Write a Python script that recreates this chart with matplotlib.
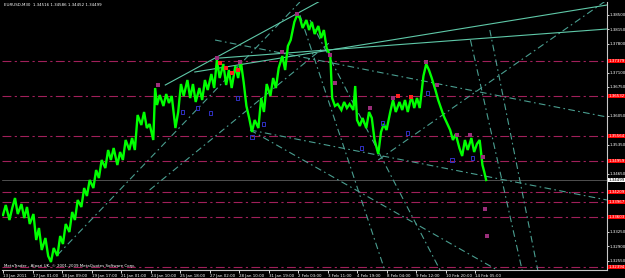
import matplotlib
matplotlib.use('Agg')
import matplotlib.pyplot as plt
from matplotlib import font_manager
from matplotlib.transforms import blended_transform_factory

# ---- price path (bar index, close) ----
bars = [0,3,7,10,13,16,20,23,26,29,33,36,39,42,46,49,52,55,59,62,65,68,72,75,78,81,85,88,91,94,
        98,101,104,107,111,114,117,120,124,127,130,133,137,140,143,146,150,153,156,159,163,165,167,170,
        174,177,180,183,187,190,193,196,200,203,206,209,213,216,219,222,226,229,232,235,239,242,245,248,
        252,255,258,261,264,267,270,273,277,280,283,286,290,293,296,299,303,306,309,312,316,319,322,325,
        329,332,335,338,342,345,348,351,355,357,360,363,367,370,373,376,380,382,384,387,390,394,397,400,
        403,407,410,413,416,420,423,426,430,433,436,439,443,446,449,452,456,459,462,465,469,472,475,478,
        482,485,488,491,495,498,501,504,508,511,514,517,520,522,524]
closes = [1.33652,1.33894,1.33531,1.33821,1.34063,1.33676,1.33918,1.33579,1.33846,1.33434,1.33676,1.33047,
          1.33337,1.32805,1.33095,1.32660,1.32515,1.32853,1.32660,1.33144,1.32950,1.33434,1.33241,1.33725,
          1.33531,1.34015,1.33846,1.34305,1.34112,1.34499,1.34305,1.34741,1.34547,1.34983,1.34789,1.35225,
          1.34983,1.35273,1.34862,1.35177,1.34983,1.35467,1.35225,1.35515,1.35225,1.36072,1.35830,1.36145,
          1.35757,1.35854,1.35467,1.36725,1.36314,1.36556,1.36290,1.36580,1.36362,1.36532,1.35757,1.36145,
          1.36822,1.36532,1.36919,1.36483,1.36822,1.36387,1.36725,1.36435,1.36919,1.36677,1.37064,1.36725,
          1.37403,1.36967,1.37306,1.36798,1.37161,1.36725,1.37258,1.36967,1.37355,1.36871,1.36290,1.35999,
          1.35661,1.35951,1.35757,1.36483,1.36145,1.36822,1.36532,1.36967,1.36725,1.37209,1.37500,1.37161,
          1.37742,1.37887,1.38323,1.38492,1.38419,1.38177,1.38371,1.38129,1.38323,1.38032,1.38226,1.37935,
          1.38129,1.37693,1.37500,1.36483,1.36290,1.36338,1.36193,1.36387,1.36241,1.36338,1.36193,1.36774,
          1.35951,1.35806,1.35999,1.35757,1.36145,1.35999,1.35467,1.35128,1.35661,1.35854,1.35709,1.36145,
          1.36435,1.36145,1.36387,1.36193,1.36435,1.36145,1.36532,1.36241,1.36483,1.36241,1.37016,1.37306,
          1.37161,1.36967,1.36677,1.36435,1.36241,1.36048,1.35854,1.35709,1.35467,1.35612,1.35273,1.35080,
          1.35467,1.35225,1.35515,1.35177,1.35370,1.35467,1.34862,1.34693,1.34499]

# ---- axis labels ----
date_ticks = [0,32,64,96,128,160,192,224,256,288,320,352,384,416,448,480,512]
date_labels = ["13 Jan 2011","17 Jan 01:00","18 Jan 09:00","19 Jan 17:00","21 Jan 01:00",
               "24 Jan 10:00","25 Jan 18:00","27 Jan 02:00","28 Jan 10:00","31 Jan 19:00",
               "2 Feb 03:00","3 Feb 11:00","4 Feb 19:00","8 Feb 04:00","9 Feb 12:00",
               "10 Feb 20:00","14 Feb 05:00"]
price_ticks = [1.38500,1.38150,1.37800,1.37450,1.37100,1.36750,1.36400,1.36050,1.35700,
               1.35350,1.35000,1.34650,1.34300,1.33950,1.33600,1.33250,1.32900,1.32550]

# ---- horizontal levels ----
levels = [1.37379,1.36532,1.35564,1.34959,1.34209,1.33967,1.33603,1.32394]
last_price = 1.34499
title_text = "EURUSD,M30  1.34516 1.34586 1.34452 1.34499"
copyright_text = "MetaTrader - Alpari UK, \u00a9 2001-2009 MetaQuotes Software Corp."

# ---- trendlines (bar0, price0, bar1, price1) ----
solid_lines = [(176,1.36798,366,1.39097),
               (208,1.37113,655,1.38734),
               (235,1.37451,655,1.38153)]
dash_lines = [(59,1.32684,322,1.38807),
              (268,1.35709,655,1.34015),
              (268,1.35709,536,1.32321),
              (230,1.37887,655,1.36024),
              (407,1.34983,655,1.38855),
              (322,1.38492,414,1.32321),
              (333,1.38371,474,1.32321),
              (507,1.37887,563,1.32321),
              (528,1.38129,580,1.32321),
              (159,1.34257,355,1.37839)]

# ---- markers ----
purple_x = [168,232,257,303,319,355,360,398,423,459,471,492,507,521,523,525]
purple_y = [1.36798,1.37451,1.37355,1.37597,1.38516,1.37524,1.36846,1.36241,1.36483,1.37355,
            1.36798,1.35588,1.35588,1.35056,1.33797,1.33144]
red_x = [235,242,248,255,428,443]
red_y = [1.37330,1.37209,1.37088,1.37161,1.36532,1.36508]
blue_x = [195,211,225,254,270,283,389,412,439,460,487,509]
blue_y = [1.36145,1.36241,1.36120,1.36483,1.35540,1.35854,1.35273,1.35878,1.35636,1.36604,
          1.34983,1.35031]

names = {f.name for f in font_manager.fontManager.ttflist}
if 'Liberation Sans Narrow' in names:
    FONT, FS = 'Liberation Sans Narrow', 3.5
else:
    FONT, FS = 'DejaVu Sans', 2.9
plt.rcParams['font.family'] = [FONT, 'DejaVu Sans']

BG = 'black'
GREEN = '#00FF00'
MAG = '#A0205A'
TEAL_S = '#5FC8A8'
TEAL_D = '#4A9E90'

fig = plt.figure(figsize=(6.25, 2.78), dpi=100, facecolor=BG)
ax = fig.add_axes([2/625, 8/278, 605/625, 268/278], facecolor=BG)
ax.set_xlim(-1.1, 655.1)
ax.set_ylim(1.32321, 1.38807)

for lv in levels:
    ax.axhline(lv, color=MAG, lw=0.8, ls=(0, (8, 3, 2, 3)), zorder=1)
ax.axhline(last_price, color='#707070', lw=0.5, zorder=1)

for b0, p0, b1, p1 in dash_lines:
    ax.plot([b0, b1], [p0, p1], color=TEAL_D, lw=0.8, ls=(0, (6, 3, 1.5, 3)), zorder=2)
for b0, p0, b1, p1 in solid_lines:
    ax.plot([b0, b1], [p0, p1], color=TEAL_S, lw=0.8, zorder=2)

ax.plot(bars, closes, color=GREEN, lw=1.7, zorder=3, solid_joinstyle='miter')

ax.scatter(blue_x, blue_y, s=5, marker='s', facecolors='none', edgecolors='#3030C0', lw=0.7, zorder=4)
ax.scatter(purple_x, purple_y, s=8, marker='s', color='#9A2E7A', lw=0, zorder=4)
ax.scatter(red_x, red_y, s=9, marker='s', color='#FF2020', lw=0, zorder=4)

for s in ['top', 'left']:
    ax.spines[s].set_visible(False)
for s in ['right', 'bottom']:
    ax.spines[s].set_color('#C8C8C8')
    ax.spines[s].set_linewidth(0.8)

# price ticks hidden under the level boxes are not drawn
marked = levels + [last_price]
shown_ticks = [p for p in price_ticks if min(abs(p - m) for m in marked) > 0.0015]
ax.yaxis.tick_right()
ax.set_yticks(shown_ticks)
ax.set_yticklabels([f"{p:.5f}" for p in shown_ticks])
ax.set_xticks(date_ticks)
ax.set_xticklabels(date_labels)
ax.tick_params(axis='y', colors='white', labelsize=FS, length=1.2, width=0.6, pad=0.5)
ax.tick_params(axis='x', colors='white', labelsize=FS, length=2, width=0.6, pad=0.8)
for lab in ax.get_xticklabels():
    lab.set_horizontalalignment('left')

tr = blended_transform_factory(ax.transAxes, ax.transData)
for lv in levels:
    ax.text(1.003, lv, f"{lv:.5f}", transform=tr, fontsize=FS, color='white', va='center', ha='left',
            clip_on=False, zorder=10,
            bbox=dict(boxstyle='square,pad=0.08', fc='#FF0000', ec='none'))
ax.text(1.003, last_price, f"{last_price:.5f}", transform=tr, fontsize=FS, color='black', va='center',
        ha='left', clip_on=False, zorder=10,
        bbox=dict(boxstyle='square,pad=0.08', fc='white', ec='none'))

ax.text(0.003, 0.995, title_text, transform=ax.transAxes, fontsize=FS, color='white', va='top', ha='left')
ax.text(0.003, 0.008, copyright_text, transform=ax.transAxes, fontsize=FS, color='white', va='bottom', ha='left')

fig.savefig('out.png', dpi=100, facecolor=BG)
